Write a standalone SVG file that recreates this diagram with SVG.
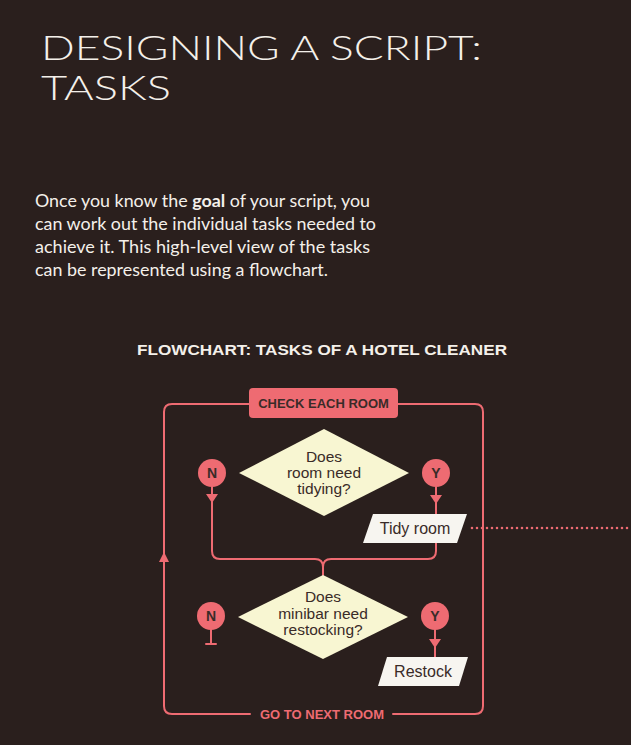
<svg xmlns="http://www.w3.org/2000/svg" width="631" height="745" viewBox="0 0 631 745">
<defs>
<style>
.bg{fill:#2a1f1d}
.ln{fill:none;stroke:#ee6b72;stroke-width:2;stroke-linecap:round;stroke-linejoin:round}
.ah{fill:#ee6b72}
.dot{fill:none;stroke:#ee6b72;stroke-width:2.6;stroke-linecap:round;stroke-dasharray:0 5}
.box{fill:#ee6b72}
.dia{fill:#f8f6d2}
.par{fill:#f7f5f0}
.t{font-family:"Liberation Sans",Arial,sans-serif;fill:#3a2b28;text-anchor:middle}
.lab{font-size:13px;font-weight:bold}
.q{font-size:15.5px}
.task{font-size:16px}
.yn{font-size:14px;font-weight:bold}
.pink{fill:#ee6b72}
.title{font-family:Lato,"Open Sans",sans-serif;font-weight:300;font-size:33px;fill:#f4f0ea}
.para{font-family:Lato,"Open Sans",sans-serif;font-size:17.5px;fill:#f4f0ea}
.sub{font-family:"Liberation Sans",Arial,sans-serif;font-weight:bold;font-size:15px;fill:#f4f0ea;text-anchor:middle}
</style>
</defs>
<rect class="bg" x="0" y="0" width="631" height="745"/>
<text class="title" x="41" y="60" textLength="441" lengthAdjust="spacingAndGlyphs">DESIGNING A SCRIPT:</text>
<text class="title" x="41" y="100" textLength="130" lengthAdjust="spacingAndGlyphs">TASKS</text>
<text class="para" x="35" y="207" textLength="335" lengthAdjust="spacingAndGlyphs">Once you know the <tspan font-weight="bold">goal</tspan> of your script, you</text>
<text class="para" x="35" y="230" textLength="341" lengthAdjust="spacingAndGlyphs">can work out the individual tasks needed to</text>
<text class="para" x="35" y="253" textLength="335" lengthAdjust="spacingAndGlyphs">achieve it. This high-level view of the tasks</text>
<text class="para" x="35" y="276" textLength="293" lengthAdjust="spacingAndGlyphs">can be represented using a flowchart.</text>
<text class="sub" x="322" y="355" textLength="370" lengthAdjust="spacingAndGlyphs">FLOWCHART: TASKS OF A HOTEL CLEANER</text>
<g id="connectors">
<path class="ln" d="M249 404 H172 Q164 404 164 412 V706 Q164 714 172 714 H250"/>
<path class="ln" d="M398 404 H475 Q483 404 483 412 V706 Q483 714 475 714 H393"/>
<polygon class="ah" points="164,552 159,562 169,562"/>
<path class="ln" d="M212 487 V551 Q212 559 220 559 H315 Q323 559 323 567 V575"/>
<path class="ln" d="M436 487 V514"/>
<path class="ln" d="M436 543 V551 Q436 559 428 559 H331 Q323 559 323 567"/>
<polygon class="ah" points="206,494 218,494 212,503"/>
<polygon class="ah" points="430,495 442,495 436,504"/>
<path class="ln" d="M211 630 V644 M206 644 H216"/>
<path class="ln" d="M435 630 V657"/>
<polygon class="ah" points="429,639 441,639 435,648"/>
<path class="dot" d="M472 528 H631"/>
</g>
<g id="check-each-room">
<rect class="box" x="249" y="388" width="149" height="30" rx="4"/>
<text class="t lab" x="323.5" y="408">CHECK EACH ROOM</text>
</g>
<g id="decision-tidy">
<polygon class="dia" points="324,429 409,473 324,516 239,473"/>
<text class="t q" x="324" y="462">Does</text>
<text class="t q" x="324" y="478">room need</text>
<text class="t q" x="324" y="494">tidying?</text>
</g>
<g id="n1">
<circle class="box" cx="212" cy="473" r="14"/>
<text class="t yn" x="212" y="478">N</text>
</g>
<g id="y1">
<circle class="box" cx="436" cy="473" r="14"/>
<text class="t yn" x="436" y="478">Y</text>
</g>
<g id="tidy-room">
<polygon class="par" points="373,514 467,514 457,543 363,543"/>
<text class="t task" x="415" y="534">Tidy room</text>
</g>
<g id="decision-minibar">
<polygon class="dia" points="323,575 408,617 323,659 238,617"/>
<text class="t q" x="323" y="602">Does</text>
<text class="t q" x="323" y="619">minibar need</text>
<text class="t q" x="323" y="635">restocking?</text>
</g>
<g id="n2">
<circle class="box" cx="211" cy="616" r="14"/>
<text class="t yn" x="211" y="621">N</text>
</g>
<g id="y2">
<circle class="box" cx="435" cy="616" r="14"/>
<text class="t yn" x="435" y="621">Y</text>
</g>
<g id="restock">
<polygon class="par" points="387,657 468,657 459,686 378,686"/>
<text class="t task" x="423" y="677">Restock</text>
</g>
<g id="go-to-next-room">
<text class="t lab pink" x="322" y="719">GO TO NEXT ROOM</text>
</g>
</svg>
